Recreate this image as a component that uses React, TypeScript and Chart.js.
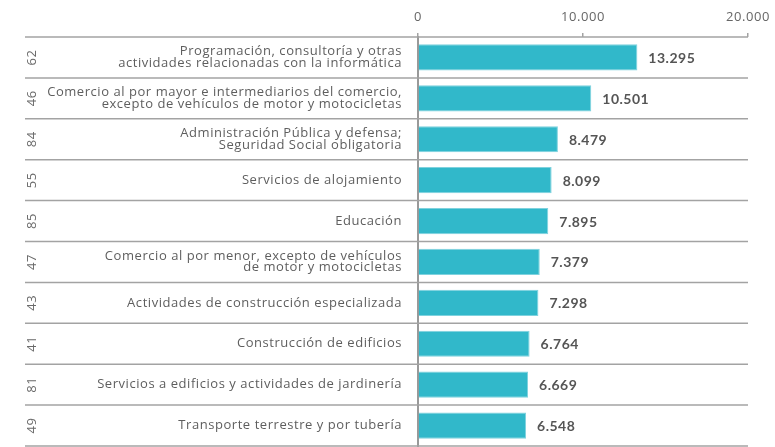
import React, { useEffect, useRef } from "react";
import { Chart, registerables } from "chart.js";

Chart.register(...registerables);

const codes: string[] = ["62", "46", "84", "55", "85", "47", "43", "41", "81", "49"];
const categories: string[][] = [
  ["Programación, consultoría y otras", "actividades relacionadas con la informática"],
  ["Comercio al por mayor e intermediarios del comercio,", "excepto de vehículos de motor y motocicletas"],
  ["Administración Pública y defensa;", "Seguridad Social obligatoria"],
  ["Servicios de alojamiento"],
  ["Educación"],
  ["Comercio al por menor, excepto de vehículos", "de motor y motocicletas"],
  ["Actividades de construcción especializada"],
  ["Construcción de edificios"],
  ["Servicios a edificios y actividades de jardinería"],
  ["Transporte terrestre y por tubería"],
];
const values: number[] = [13295, 10501, 8479, 8099, 7895, 7379, 7298, 6764, 6669, 6548];
const axisMin = 0;
const axisMax = 20000;
const axisStep = 10000;

const FONT = "Lato, 'Noto Sans', sans-serif";
const LABEL_FONT = "'Open Sans', 'Noto Sans', sans-serif";
const TEXT = "#5e5e5e";
const LINE = "#a3a3a3";
const BAR = "#31b8ca";

const fmt = (v: number) => String(v).replace(/\B(?=(\d{3})+(?!\d))/g, ".");

const extrasPlugin = {
  id: "extras",
  beforeDraw(chart: any) {
    (chart.ctx as any).letterSpacing = "0.55px";
  },
  beforeDatasetsDraw(chart: any) {
    const { ctx, chartArea, scales } = chart;
    const y = scales.y;
    const n = codes.length;
    const half = (y.getPixelForValue(1) - y.getPixelForValue(0)) / 2;
    ctx.save();
    ctx.strokeStyle = LINE;
    ctx.lineWidth = 1.5;
    for (let i = 0; i <= n; i++) {
      const py = i < n ? y.getPixelForValue(i) - half : y.getPixelForValue(n - 1) + half;
      ctx.beginPath();
      ctx.moveTo(25, py);
      ctx.lineTo(chartArea.right, py);
      ctx.stroke();
    }
    ctx.fillStyle = "#6a6a6a";
    ctx.font = `13px ${LABEL_FONT}`;
    ctx.textAlign = "center";
    ctx.textBaseline = "middle";
    for (let i = 0; i < n; i++) {
      const py = y.getPixelForValue(i);
      ctx.save();
      ctx.translate(32, py);
      ctx.rotate(-Math.PI / 2);
      ctx.fillText(codes[i], 0, 0);
      ctx.restore();
    }
    ctx.restore();
  },
  afterDatasetsDraw(chart: any) {
    const { ctx } = chart;
    const meta = chart.getDatasetMeta(0);
    ctx.save();
    ctx.fillStyle = "#555";
    ctx.font = `bold 14px ${FONT}`;
    (ctx as any).letterSpacing = "0.5px";
    ctx.textAlign = "left";
    ctx.textBaseline = "middle";
    meta.data.forEach((bar: any, i: number) => {
      ctx.fillText(fmt(values[i]), bar.x + 11, bar.y + 1);
    });
    ctx.restore();
  },
  afterDraw(chart: any) {
    (chart.ctx as any).letterSpacing = "0px";
  },
};

export default function App() {
  const ref = useRef<HTMLCanvasElement | null>(null);
  useEffect(() => {
    if (!ref.current) return;
    const chart = new Chart(ref.current, {
      type: "bar",
      data: {
        labels: categories,
        datasets: [
          {
            data: values,
            backgroundColor: BAR,
            borderColor: "#7fd2de",
            borderWidth: 1,
            borderSkipped: "left",
            barPercentage: 0.64,
            categoryPercentage: 1,
          },
        ],
      },
      options: {
        indexAxis: "y",
        responsive: true,
        animation: false,
        maintainAspectRatio: false,
        layout: { padding: { left: 0, right: 27, top: 0, bottom: 1 } },
        plugins: { legend: { display: false }, tooltip: { enabled: false } },
        scales: {
          x: {
            position: "top",
            min: axisMin,
            max: axisMax,
            afterFit: (s: any) => {
              s.height = 37;
              s.paddingLeft = 0;
              s.paddingRight = 0;
            },
            ticks: {
              stepSize: axisStep,
              color: "#666",
              padding: 8,
              font: { family: LABEL_FONT, size: 13 },
              callback: (v: any) => fmt(Number(v)),
            },
            grid: { drawOnChartArea: false, drawTicks: true, tickLength: 4, color: LINE, lineWidth: 1.5 },
            border: { display: false },
          },
          y: {
            afterFit: (s: any) => {
              s.width = 418;
              s.paddingTop = 0;
              s.paddingBottom = 0;
            },
            ticks: {
              color: TEXT,
              padding: 8,
              font: { family: LABEL_FONT, size: 13, lineHeight: 0.88, weight: "normal" },
            },
            grid: { display: false },
            border: { display: true, color: "#999", width: 2 },
          },
        },
      },
      plugins: [extrasPlugin],
    });
    return () => chart.destroy();
  }, []);
  return (
    <div style={{ position: "absolute", left: 0, top: 0, width: 775, height: 447, background: "#fff" }}>
      <canvas ref={ref} />
    </div>
  );
}
